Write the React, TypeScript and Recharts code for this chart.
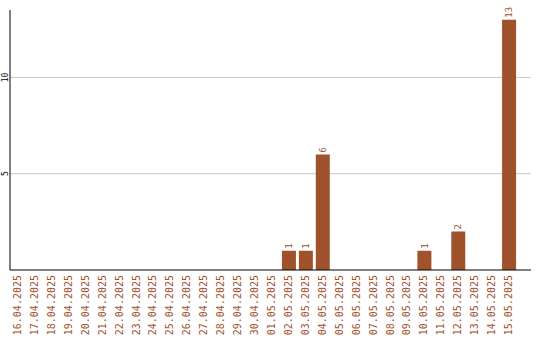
import React from "react";
import { BarChart, Bar, XAxis, YAxis, CartesianGrid, LabelList } from "recharts";

// Daily counts, 16.04.2025 – 15.05.2025
const dates = [
  "16.04.2025", "17.04.2025", "18.04.2025", "19.04.2025", "20.04.2025",
  "21.04.2025", "22.04.2025", "23.04.2025", "24.04.2025", "25.04.2025",
  "26.04.2025", "27.04.2025", "28.04.2025", "29.04.2025", "30.04.2025",
  "01.05.2025", "02.05.2025", "03.05.2025", "04.05.2025", "05.05.2025",
  "06.05.2025", "07.05.2025", "08.05.2025", "09.05.2025", "10.05.2025",
  "11.05.2025", "12.05.2025", "13.05.2025", "14.05.2025", "15.05.2025",
];
const counts = [
  0, 0, 0, 0, 0,
  0, 0, 0, 0, 0,
  0, 0, 0, 0, 0,
  0, 1, 1, 6, 0,
  0, 0, 0, 0, 1,
  0, 2, 0, 0, 13,
];
const yTicks = [5, 10];

const data = dates.map((date, i) => ({ date, count: counts[i] }));

const BROWN = "#a0522d";
const MONO = "'DejaVu Sans Mono', monospace";

const DateTick = (props: any) => {
  const { x, y, payload } = props;
  return (
    <text
      transform={`translate(${x - 1},${y - 3}) rotate(-90)`}
      textAnchor="end"
      dy="0.35em"
      fontFamily={MONO}
      fontSize={10}
      fill={BROWN}
    >
      {payload.value}
    </text>
  );
};

const ValueTick = (props: any) => {
  const { y, payload } = props;
  return (
    <text
      transform={`translate(5,${y}) rotate(-90)`}
      textAnchor="middle"
      dy="0.35em"
      fontFamily={MONO}
      fontSize={8}
      fill="#000"
    >
      {payload.value}
    </text>
  );
};

const BarValue = (props: any) => {
  const { x, y, width, value } = props;
  if (!value) return null;
  return (
    <text
      transform={`translate(${x + width / 2},${y - 2}) rotate(-90)`}
      textAnchor="start"
      dy="0.35em"
      fontFamily={MONO}
      fontSize={9}
      fill={BROWN}
    >
      {value}
    </text>
  );
};

export default function App() {
  return (
    <div style={{ position: "absolute", left: 0, top: 0, background: "#fff" }}>
      <BarChart
        width={540}
        height={340}
        data={data}
        margin={{ top: 10, right: 9, bottom: 0, left: 0 }}
        barSize={14}
      >
        <CartesianGrid
          horizontal
          vertical={false}
          horizontalValues={yTicks}
          stroke="#c8c8c8"
        />
        <XAxis
          dataKey="date"
          interval={0}
          height={70}
          tickLine={false}
          axisLine={{ stroke: "#000" }}
          padding={{ left: 0, right: 13 }}
          tick={<DateTick />}
        />
        <YAxis
          width={10}
          domain={[0, 13.5]}
          ticks={yTicks}
          tickLine={false}
          axisLine={{ stroke: "#000" }}
          tick={<ValueTick />}
        />
        <Bar dataKey="count" fill={BROWN} isAnimationActive={false}>
          <LabelList dataKey="count" content={<BarValue />} />
        </Bar>
      </BarChart>
    </div>
  );
}
